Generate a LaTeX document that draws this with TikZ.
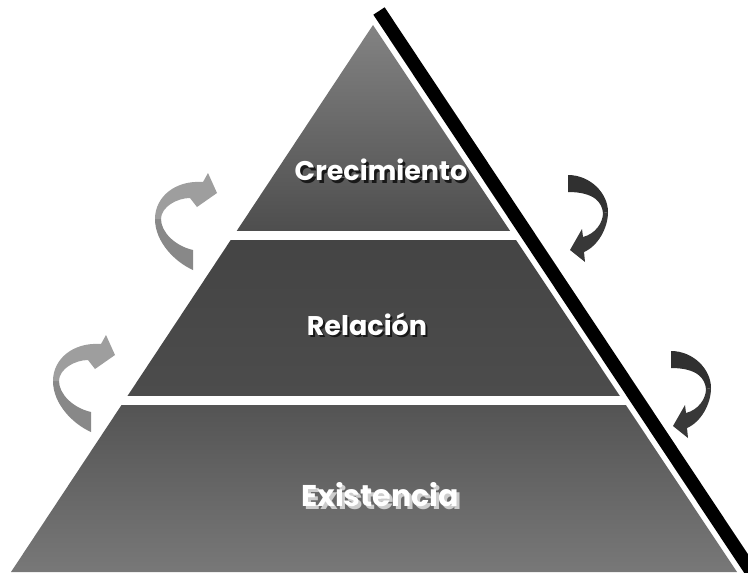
\documentclass[tikz,border=0pt]{standalone}
\usepackage{fontspec}
\setmainfont{Poppins}
\usepackage{xcolor}
\definecolor{topupper}{RGB}{132,132,132}
\definecolor{toplower}{RGB}{78,78,78}
\definecolor{midupper}{RGB}{68,68,68}
\definecolor{midlower}{RGB}{76,76,76}
\definecolor{botupper}{RGB}{84,84,84}
\definecolor{botlower}{RGB}{120,120,120}
\definecolor{ribbonlight}{RGB}{158,158,158}
\definecolor{ribbonback}{RGB}{136,136,136}
\definecolor{ribbondark}{RGB}{48,48,48}
\definecolor{ribbondeep}{RGB}{56,56,56}
\definecolor{shadowdark}{RGB}{25,25,25}
\definecolor{shadowlight}{RGB}{205,205,205}

\begin{document}
\begin{tikzpicture}[
    x=1pt, y=-1pt,
    level/.style={
        text=white, inner sep=0pt,
        font=\bfseries\fontsize{27}{30}\selectfont
    },
    levelshadow/.style={
        level, text=shadowdark
    },
    pics/climbarrow/.style={code={
        % back of the ribbon
        \fill[ribbonback] (8,48) .. controls (-10,40) and (-30,20) .. (-30,-3)
            -- (-24,-3) .. controls (-24,10) and (-10,24) .. (8,28) -- cycle;
        % front of the ribbon and head
        \fill[ribbonlight] (-30,-3) .. controls (-30,-25) and (-10,-42) .. (18,-40)
            -- (23,-49) -- (32,-29) -- (12,-15) -- (5,-24)
            .. controls (-8,-24) and (-24,-15) .. (-24,-3) -- cycle;
    }},
    pics/dropdarrow/.style={code={
        % tail part
        \fill[ribbondark] (-22,-43) .. controls (0,-43) and (18,-25) .. (18,-6)
            -- (13,-5) .. controls (12,-15) and (5,-26) .. (-22,-26) -- cycle;
        % lower part and head
        \fill[ribbondeep] (18,-6) .. controls (18,10) and (8,28) .. (-6,34)
            -- (-5,44) -- (-20,32) -- (-8,11) -- (-7,19)
            .. controls (5,16) and (13,5) .. (13,-5) -- cycle;
    }}
]
\useasboundingbox (0,0) rectangle (748,573);
\clip (0,0) rectangle (748,573);

% Pyramid
\coordinate (apex) at (373,25);
\coordinate (baseleft) at (11,572);
\coordinate (baseright) at (737,572);
\begin{scope}
    \clip (apex) -- (baseleft) -- (baseright) -- cycle;
    \shade[top color=topupper, bottom color=toplower] (0,20) rectangle (748,230);
    \shade[top color=midupper, bottom color=midlower] (0,240) rectangle (748,395);
    \shade[top color=botupper, bottom color=botlower] (0,405) rectangle (748,573);
\end{scope}

% Black edge
\coordinate (edgetop) at (379,11);
\coordinate (edgeend) at (757,580);
\draw[line width=13.5pt, black] (edgetop) -- (edgeend);

% Levels
\node[levelshadow] (growshadow) at (383.5,172.5) {Crecimiento};
\node[level] (grow) at (381,170) {Crecimiento};

\node[levelshadow, font=\bfseries\fontsize{27}{30}\selectfont] (relateshadow) at (369,326) {Relación};
\node[level, font=\bfseries\fontsize{27}{30}\selectfont] (relate) at (367,324) {Relación};

\node[levelshadow, text=shadowlight, font=\bfseries\fontsize{30}{33}\selectfont] (existshadow) at (383,498) {Existencia};
\node[level, font=\bfseries\fontsize{30}{33}\selectfont] (exist) at (380,495) {Existencia};

% Arrows
\pic (upleft) at (185,222) {climbarrow};
\pic (lowleft) at (83,384) {climbarrow};
\pic (upright) at (590,218) {dropdarrow};
\pic (lowright) at (693,394) {dropdarrow};

\end{tikzpicture}
\end{document}
